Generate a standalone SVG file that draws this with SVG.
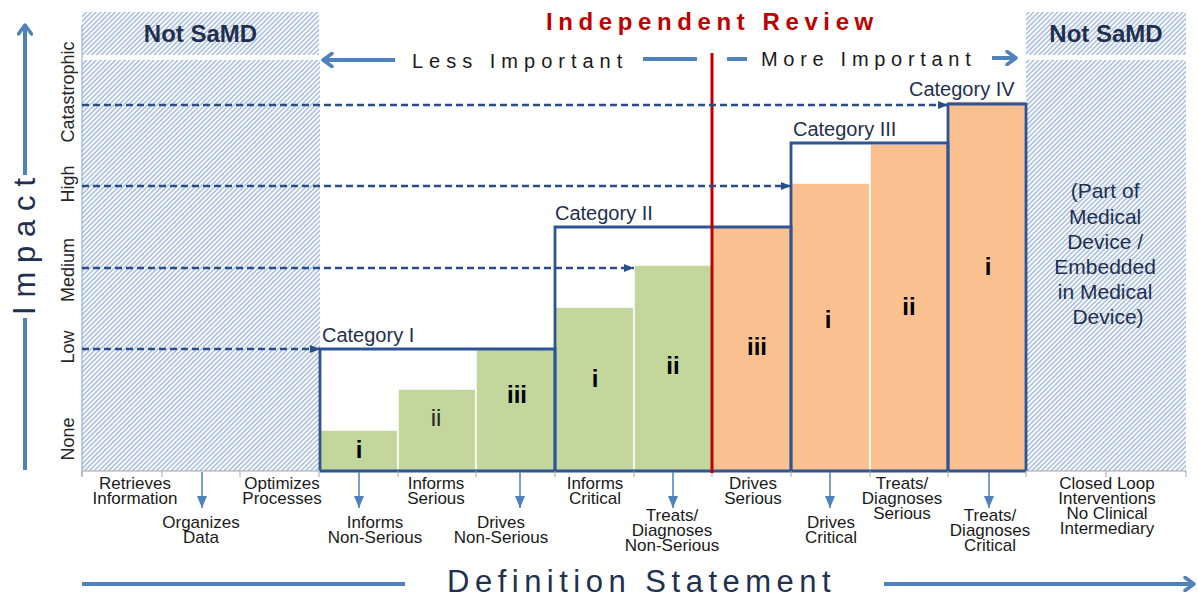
<svg xmlns="http://www.w3.org/2000/svg" width="1198" height="597" viewBox="0 0 1198 597">
<style>
.t{font-family:"Liberation Sans",Arial,sans-serif}
.lab{font-family:"Liberation Sans",Arial,sans-serif;font-size:17px;fill:#1a1a1a;text-anchor:middle}
.ax{font-family:"Liberation Sans",Arial,sans-serif;font-size:18px;fill:#262626;text-anchor:middle}
.cat{font-family:"Liberation Sans",Arial,sans-serif;font-size:20px;fill:#1f3050}
.num{font-family:"Liberation Sans",Arial,sans-serif;font-size:24px;font-weight:bold;fill:#000;text-anchor:middle}
.reg{font-weight:normal;fill:#262626}
.dash{stroke:#2a4d8a;stroke-width:2.5;stroke-dasharray:7 4;fill:none}
.outl{stroke:#2f5496;stroke-width:2.8;fill:none}
.blue{stroke:#4f81bd;stroke-width:4;fill:none}
.small{stroke:#4f81bd;stroke-width:1.5;fill:none}
.tick{stroke:#a6a6a6;stroke-width:1}
.g{fill:#c3d69b;stroke:#fff;stroke-width:1.5}
.o{fill:#fac090;stroke:#fff;stroke-width:1.5}
.hatch{fill:url(#hp)}
</style>
<defs>
<pattern id="hp" patternUnits="userSpaceOnUse" width="3.4" height="3.4" patternTransform="rotate(-45)">
<rect width="3.4" height="3.4" fill="#fff"/>
<line x1="0" y1="1.7" x2="3.4" y2="1.7" stroke="#8eaad9" stroke-width="1.2"/>
</pattern>
<marker id="dh" markerUnits="userSpaceOnUse" viewBox="0 0 10 10" refX="10" refY="5" markerWidth="10" markerHeight="10" orient="auto">
<path d="M0,1 L10,5 L0,9 z" fill="#2a4d8a"/>
</marker>
<marker id="bh" markerUnits="userSpaceOnUse" viewBox="0 0 16 16" refX="11" refY="8" markerWidth="16" markerHeight="16" orient="auto">
<path d="M4,1.5 L13,8 L4,14.5" fill="none" stroke="#4f81bd" stroke-width="3.5" stroke-linecap="round" stroke-linejoin="round"/>
</marker>
<marker id="sh" markerUnits="userSpaceOnUse" viewBox="0 0 12 10" refX="12" refY="5" markerWidth="12" markerHeight="10" orient="auto">
<path d="M0,0 L12,5 L0,10 z" fill="#4f81bd"/>
</marker>
</defs>

<g id="not-samd-left">
<rect class="hatch" x="82" y="12" width="237" height="43"/>
<rect class="hatch" x="82" y="60" width="238" height="411"/>
<text class="t" x="200.5" y="42" font-size="24" font-weight="bold" fill="#1f3050" text-anchor="middle">Not SaMD</text>
</g>
<g id="not-samd-right">
<rect class="hatch" x="1026" y="12" width="160" height="43"/>
<rect class="hatch" x="1026" y="60" width="160" height="411"/>
<text class="t" x="1106" y="42" font-size="24" font-weight="bold" fill="#1f3050" text-anchor="middle">Not SaMD</text>
<text class="t" font-size="21" fill="#1f3050" text-anchor="middle">
<tspan x="1108" y="198">(Part of</tspan>
<tspan x="1108" y="224">Medical</tspan>
<tspan x="1108" y="249">Device /</tspan>
<tspan x="1108" y="274">Embedded</tspan>
<tspan x="1108" y="299">in Medical</tspan>
<tspan x="1108" y="324">Device)</tspan>
</text>
</g>

<g id="bars">
<rect class="g" x="320" y="430" width="78" height="41"/>
<rect class="g" x="398" y="389" width="78" height="82"/>
<rect class="g" x="476" y="349" width="79" height="122"/>
<rect class="g" x="555" y="307" width="79" height="164"/>
<rect class="g" x="634" y="265" width="78" height="206"/>
<rect class="o" x="712" y="227" width="79" height="244"/>
<rect class="o" x="791" y="183" width="79" height="288"/>
<rect class="o" x="870" y="144" width="78" height="327"/>
<rect class="o" x="948" y="101" width="78" height="370"/>
</g>

<g id="category-I">
<path class="outl" d="M320,471 V349 H555 V471"/>
<text class="cat" x="322" y="342">Category I</text>
<text class="num" x="359" y="458">i</text>
<text class="num reg" x="436" y="426">ii</text>
<text class="num" x="517" y="403">iii</text>
</g>
<g id="category-II">
<path class="outl" d="M555,471 V227 H791 V471"/>
<text class="cat" x="555" y="220">Category II</text>
<text class="num" x="595" y="387">i</text>
<text class="num" x="673" y="374">ii</text>
<text class="num" x="757" y="355">iii</text>
</g>
<g id="category-III">
<path class="outl" d="M791,471 V143 H948 V471"/>
<text class="cat" x="793" y="136">Category III</text>
<text class="num" x="828" y="328">i</text>
<text class="num" x="909" y="315">ii</text>
</g>
<g id="category-IV">
<path class="outl" d="M948,471 V104 H1026 V471"/>
<text class="cat" x="909" y="96">Category IV</text>
<text class="num" x="988" y="275">i</text>
</g>

<g id="axes">
<line x1="82" y1="25" x2="82" y2="476" stroke="#86a3d6" stroke-width="1"/>
<line x1="82" y1="471" x2="320" y2="471" stroke="#a6a6a6" stroke-width="1.2"/>
<line x1="1026" y1="471" x2="1186" y2="471" stroke="#a6a6a6" stroke-width="1.2"/>
<path class="outl" d="M320,471 H1026"/>
<g class="tick">
<line x1="82" y1="471" x2="82" y2="477"/><line x1="162" y1="471" x2="162" y2="477"/><line x1="240" y1="471" x2="240" y2="477"/><line x1="319" y1="471" x2="319" y2="477"/>
<line x1="398" y1="471" x2="398" y2="477"/><line x1="476" y1="471" x2="476" y2="477"/><line x1="555" y1="471" x2="555" y2="477"/><line x1="634" y1="471" x2="634" y2="477"/>
<line x1="712" y1="471" x2="712" y2="477"/><line x1="791" y1="471" x2="791" y2="477"/><line x1="870" y1="471" x2="870" y2="477"/><line x1="948" y1="471" x2="948" y2="477"/>
<line x1="1026" y1="471" x2="1026" y2="477"/><line x1="1106" y1="471" x2="1106" y2="477"/><line x1="1186" y1="471" x2="1186" y2="477"/>
</g>
<line x1="712" y1="53" x2="712" y2="473" stroke="#c00000" stroke-width="3"/>
<text class="ax" transform="translate(74,92) rotate(-90)">Catastrophic</text>
<text class="ax" transform="translate(74,184) rotate(-90)">High</text>
<text class="ax" transform="translate(74,270) rotate(-90)">Medium</text>
<text class="ax" transform="translate(74,347) rotate(-90)">Low</text>
<text class="ax" transform="translate(74,439) rotate(-90)">None</text>
<text class="t" transform="translate(35,315) rotate(-90)" font-size="31" letter-spacing="8.8" fill="#1f3050">Impact</text>
<text class="t" x="447" y="592" font-size="31" letter-spacing="5.5" fill="#1f3050">Definition Statement</text>
<text class="t" x="546" y="30" font-size="24" font-weight="bold" letter-spacing="5.6" fill="#c00000">Independent Review</text>
<text class="t" x="412" y="68" font-size="20" letter-spacing="6" fill="#1a1a1a">Less Important</text>
<text class="t" x="761" y="66" font-size="20" letter-spacing="5.7" fill="#1a1a1a">More Important</text>
</g>

<g id="connectors">
<path class="dash" d="M82,349 H320" marker-end="url(#dh)"/>
<path class="dash" d="M82,268 H634" marker-end="url(#dh)"/>
<path class="dash" d="M82,186 H791" marker-end="url(#dh)"/>
<path class="dash" d="M82,105 H948" marker-end="url(#dh)"/>
<line class="blue" x1="25" y1="470" x2="25" y2="318"/>
<path class="blue" d="M25,175 V27" marker-end="url(#bh)"/>
<line class="blue" x1="82" y1="584" x2="405" y2="584" stroke-width="3.5"/>
<path class="blue" d="M884,584 H1192" stroke-width="3.5" marker-end="url(#bh)"/>
<path class="blue" d="M395,60 H325" marker-end="url(#bh)"/>
<line class="blue" x1="643" y1="59" x2="697" y2="59"/>
<line class="blue" x1="727" y1="59" x2="747" y2="59"/>
<path class="blue" d="M992,58 H1014" marker-end="url(#bh)"/>
<path class="small" d="M202,472 V508" marker-end="url(#sh)"/>
<path class="small" d="M359,472 V508" marker-end="url(#sh)"/>
<path class="small" d="M520,472 V508" marker-end="url(#sh)"/>
<path class="small" d="M673,472 V508" marker-end="url(#sh)"/>
<path class="small" d="M830,472 V508" marker-end="url(#sh)"/>
<path class="small" d="M989,472 V508" marker-end="url(#sh)"/>
</g>

<g id="labels">
<text class="lab"><tspan x="135" y="489">Retrieves</tspan><tspan x="135" y="504">Information</tspan></text>
<text class="lab"><tspan x="201" y="528">Organizes</tspan><tspan x="201" y="543">Data</tspan></text>
<text class="lab"><tspan x="282" y="489">Optimizes</tspan><tspan x="282" y="504">Processes</tspan></text>
<text class="lab"><tspan x="375" y="528">Informs</tspan><tspan x="375" y="543">Non-Serious</tspan></text>
<text class="lab"><tspan x="436" y="489">Informs</tspan><tspan x="436" y="504">Serious</tspan></text>
<text class="lab"><tspan x="501" y="528">Drives</tspan><tspan x="501" y="543">Non-Serious</tspan></text>
<text class="lab"><tspan x="595" y="489">Informs</tspan><tspan x="595" y="504">Critical</tspan></text>
<text class="lab"><tspan x="672" y="521">Treats/</tspan><tspan x="672" y="536">Diagnoses</tspan><tspan x="672" y="551">Non-Serious</tspan></text>
<text class="lab"><tspan x="753" y="489">Drives</tspan><tspan x="753" y="504">Serious</tspan></text>
<text class="lab"><tspan x="831" y="528">Drives</tspan><tspan x="831" y="543">Critical</tspan></text>
<text class="lab"><tspan x="902" y="489">Treats/</tspan><tspan x="902" y="504">Diagnoses</tspan><tspan x="902" y="519">Serious</tspan></text>
<text class="lab"><tspan x="990" y="521">Treats/</tspan><tspan x="990" y="536">Diagnoses</tspan><tspan x="990" y="551">Critical</tspan></text>
<text class="lab"><tspan x="1107" y="489">Closed Loop</tspan><tspan x="1107" y="504">Interventions</tspan><tspan x="1107" y="519">No Clinical</tspan><tspan x="1107" y="534">Intermediary</tspan></text>
</g>
</svg>
